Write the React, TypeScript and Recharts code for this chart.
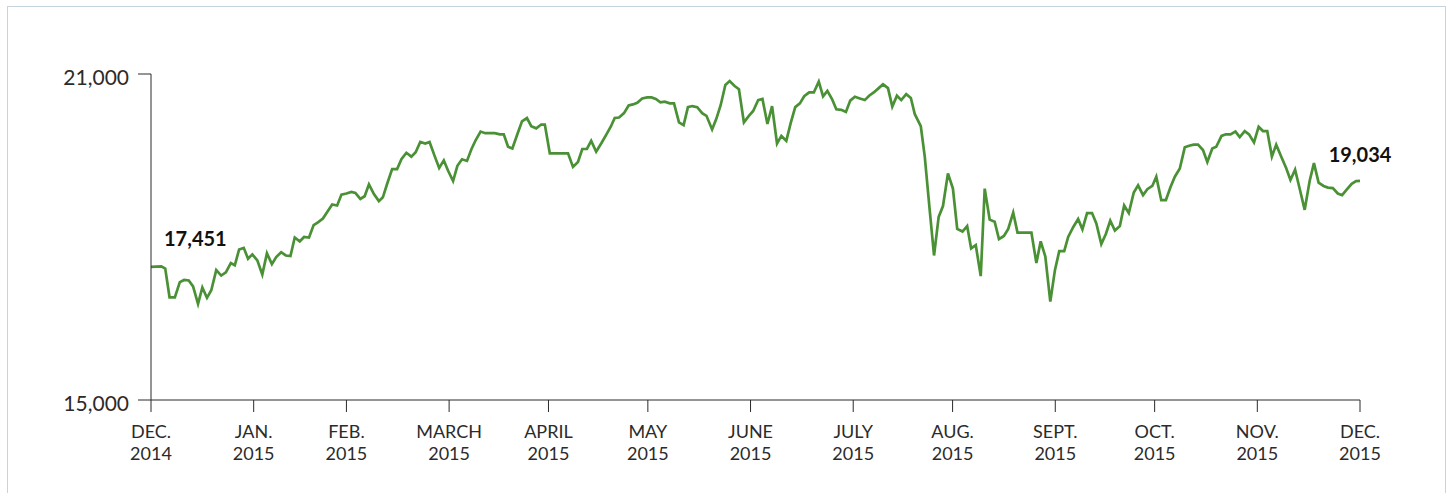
import { LineChart, Line, XAxis, YAxis } from "recharts";

// days since Dec. 1, 2014
const days = [
  0, 3.1, 4.3, 5.6, 7.2, 8.7, 10.0, 11.4, 12.7, 14.2, 15.5, 16.9, 18.2, 19.7, 21.2, 22.6, 24.1, 25.3, 26.6, 28.0,
  29.3, 30.6, 32.1, 33.6, 35.0, 36.5, 37.8, 39.3, 40.7, 42.1, 43.4, 44.9, 46.2, 47.7, 49.1, 50.4, 51.9, 53.2, 54.7, 56.2,
  57.5, 59.0, 60.5, 61.7, 63.2, 64.5, 65.8, 67.3, 68.8, 70.0, 71.3, 72.8, 74.3, 75.6, 77.1, 78.6, 79.9, 81.3, 82.8, 84.1,
  85.7, 87.0, 88.4, 89.7, 91.2, 92.5, 93.9, 95.4, 96.7, 98.0, 99.5, 100.9, 103.8, 105.3, 106.5, 107.8, 109.1, 110.6, 112.0, 113.5,
  114.8, 116.3, 117.8, 118.9, 120.4, 125.9, 127.4, 128.9, 130.2, 131.6, 132.9, 134.4, 136.0, 137.5, 138.8, 140.0, 141.3, 142.8, 144.2, 145.5,
  146.8, 148.3, 149.8, 151.1, 152.4, 153.8, 155.1, 156.6, 157.9, 159.4, 160.8, 162.1, 163.4, 164.9, 166.4, 167.7, 169.4, 170.7, 172.0, 173.4,
  174.7, 176.2, 177.5, 179.0, 180.5, 181.8, 183.3, 184.6, 186.1, 187.5, 189.0, 190.3, 191.8, 193.1, 194.5, 195.9, 197.2, 198.7, 200.1, 201.6,
  202.9, 204.2, 205.6, 206.9, 208.4, 209.8, 211.1, 212.5, 214.0, 215.5, 216.8, 218.2, 219.7, 221.0, 222.5, 223.8, 225.2, 226.5, 228.0, 229.4,
  230.6, 232.4, 233.6, 235.1, 236.4, 237.8, 239.1, 240.6, 242.1, 243.4, 245.0, 246.4, 247.6, 249.0, 250.5, 251.7, 253.2, 254.7, 256.0, 257.5,
  258.8, 260.3, 261.6, 265.8, 267.3, 268.6, 270.0, 271.5, 272.9, 274.2, 275.7, 276.9, 278.4, 279.9, 281.2, 282.6, 284.1, 285.4, 286.9, 288.3,
  289.6, 291.0, 292.5, 293.8, 295.2, 296.7, 298.0, 299.5, 300.8, 302.3, 303.5, 305.0, 306.4, 307.8, 309.1, 310.6, 312.1, 313.4, 314.8, 316.1,
  317.6, 318.9, 320.4, 321.6, 323.2, 324.5, 325.9, 327.4, 328.7, 330.2, 331.5, 333.0, 334.4, 335.7, 337.0, 338.4, 339.7, 341.2, 342.7, 344.0,
  345.4, 346.9, 348.3, 349.8, 351.1, 352.5, 354.0, 355.3, 356.8, 358.3, 359.6, 361.1, 362.5, 363.8, 365.0,
];

const closes = [
  17451, 17460, 17420, 16890, 16890, 17170, 17210, 17200, 17090, 16770, 17070, 16880, 17020, 17390, 17290, 17350, 17520, 17480, 17770, 17800,
  17600, 17680, 17570, 17310, 17700, 17500, 17630, 17720, 17660, 17650, 17990, 17920, 18000, 17990, 18220, 18270, 18340, 18460, 18600, 18580,
  18780, 18800, 18830, 18810, 18700, 18750, 18970, 18790, 18660, 18730, 18980, 19250, 19250, 19430, 19550, 19480, 19560, 19750, 19720, 19750,
  19480, 19270, 19410, 19220, 19030, 19310, 19430, 19400, 19610, 19780, 19940, 19910, 19910, 19890, 19890, 19660, 19630, 19890, 20130, 20190,
  20040, 20000, 20070, 20070, 19540, 19540, 19290, 19380, 19620, 19620, 19770, 19570, 19730, 19890, 20030, 20190, 20200, 20280, 20420, 20440,
  20470, 20550, 20570, 20570, 20540, 20480, 20490, 20460, 20460, 20110, 20060, 20390, 20410, 20390, 20280, 20230, 19980, 20180, 20430, 20800,
  20870, 20780, 20720, 20110, 20230, 20320, 20520, 20540, 20080, 20410, 19720, 19860, 19770, 20090, 20390, 20460, 20590, 20660, 20660, 20860,
  20590, 20690, 20540, 20350, 20340, 20300, 20510, 20580, 20550, 20520, 20600, 20660, 20740, 20810, 20740, 20400, 20600, 20520, 20630, 20560,
  20260, 20040, 19480, 18490, 17660, 18370, 18570, 19170, 18890, 18150, 18100, 18200, 17790, 17850, 17280, 18890, 18320, 18280, 17960, 18020,
  18150, 18450, 18080, 18080, 17520, 17920, 17640, 16810, 17390, 17740, 17740, 18000, 18180, 18330, 18140, 18440, 18440, 18250, 17870, 18060,
  18300, 18120, 18200, 18580, 18440, 18820, 18950, 18770, 18880, 18940, 19110, 18680, 18680, 18920, 19110, 19260, 19650, 19680, 19700, 19700,
  19600, 19380, 19630, 19660, 19860, 19890, 19890, 19940, 19840, 19950, 19890, 19740, 20030, 19950, 19950, 19480, 19700, 19480, 19270, 19050,
  19240, 18860, 18500, 19030, 19360, 19000, 18940, 18910, 18900, 18800, 18770, 18880, 18980, 19030, 19034,
];

// tick positions as placed on the original axis (days since Dec. 1, 2014)
const monthDays = [0, 31, 59, 90, 120, 150, 181, 212, 242, 273, 303, 334, 365];
const monthNames = ["DEC.", "JAN.", "FEB.", "MARCH", "APRIL", "MAY", "JUNE", "JULY", "AUG.", "SEPT.", "OCT.", "NOV.", "DEC."];
const monthYears = ["2014", "2015", "2015", "2015", "2015", "2015", "2015", "2015", "2015", "2015", "2015", "2015", "2015"];
const yTicks = [15000, 21000];

const series = days.map((d, i) => ({ day: d, close: closes[i] }));

const FONT = "Lato, 'Open Sans', sans-serif";
const GREEN = "#4a9136";
const INK = "#2b2b2b";

const fmt = (v: number) => v.toLocaleString("en-US");

function YTick({ x, y, payload }: any) {
  return (
    <text x={x} y={y + 4} dy="0.355em" textAnchor="end" fontFamily={FONT} fontSize={21} fill={INK}>
      {fmt(payload.value)}
    </text>
  );
}

function XTick({ x, y, payload }: any) {
  const i = monthDays.indexOf(payload.value);
  return (
    <g>
      <text x={x} y={y + 25.5} textAnchor="middle" fontFamily={FONT} fontSize={18} fill={INK}>
        {monthNames[i]}
      </text>
      <text x={x} y={y + 47.5} textAnchor="middle" fontFamily={FONT} fontSize={18} fill={INK}>
        {monthYears[i]}
      </text>
    </g>
  );
}

function EndLabel({ x, y, index }: any) {
  if (index === 0) {
    return (
      <text x={x + 13} y={y - 21} textAnchor="start" fontFamily={FONT} fontWeight={700} fontSize={20} fill="#111">
        {fmt(closes[0])}
      </text>
    );
  }
  if (index === closes.length - 1) {
    return (
      <text x={x} y={y - 19} textAnchor="middle" fontFamily={FONT} fontWeight={700} fontSize={20} fill="#111">
        {fmt(closes[closes.length - 1])}
      </text>
    );
  }
  return <g />;
}

export default function App() {
  return (
    <div style={{ position: "absolute", left: 0, top: 0, width: 1448, height: 493, overflow: "hidden", background: "#fff" }}>
      <div
        style={{
          position: "absolute",
          left: 7,
          top: 6,
          width: 1439,
          height: 520,
          boxSizing: "border-box",
          border: "1px solid #c6d4de",
        }}
      />
      <div style={{ position: "absolute", left: 0, top: 0 }}>
        <LineChart width={1448} height={493} data={series} margin={{ top: 74, right: 88, bottom: 33, left: 71 }}>
          <XAxis
            dataKey="day"
            type="number"
            domain={[0, 365]}
            ticks={monthDays}
            interval={0}
            tickSize={12}
            tickMargin={0}
            height={60}
            stroke={INK}
            tick={<XTick />}
          />
          <YAxis
            type="number"
            domain={[15000, 21000]}
            ticks={yTicks}
            width={80}
            tickSize={13}
            tickMargin={9}
            stroke={INK}
            tick={<YTick />}
          />
          <Line
            type="linear"
            dataKey="close"
            stroke={GREEN}
            strokeWidth={2.7}
            dot={false}
            isAnimationActive={false}
            label={<EndLabel />}
          />
        </LineChart>
      </div>
    </div>
  );
}
